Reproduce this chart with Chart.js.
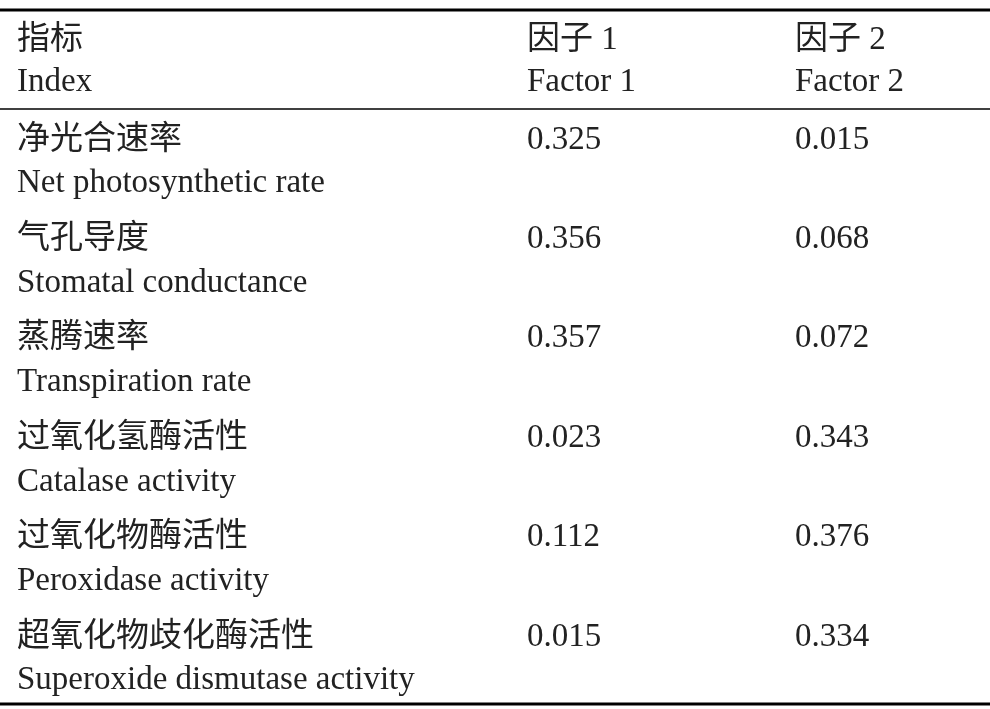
<!DOCTYPE html>
<html><head><meta charset="utf-8">
<script src="https://cdn.jsdelivr.net/npm/chart.js@4.4.1/dist/chart.umd.min.js"></script>
<style>html,body{margin:0;padding:0;background:#fff}#wrap{width:990px;height:709px}</style>
</head><body><div id="wrap"><canvas id="c"></canvas></div>
<script>
const headerZh = ['指标', '因子 1', '因子 2']
const headerEn = ['Index', 'Factor 1', 'Factor 2']
const indexZh = ['净光合速率', '气孔导度', '蒸腾速率', '过氧化氢酶活性', '过氧化物酶活性', '超氧化物歧化酶活性']
const indexEn = ['Net photosynthetic rate', 'Stomatal conductance', 'Transpiration rate', 'Catalase activity', 'Peroxidase activity', 'Superoxide dismutase activity']
const factor1 = [0.325, 0.356, 0.357, 0.023, 0.112, 0.015]
const factor2 = [0.015, 0.068, 0.072, 0.343, 0.376, 0.334]

const colX = [17, 527, 795]
const FONT = '33px "Liberation Serif", "Noto Sans CJK SC", serif'

const tablePlugin = {
  id: 'table',
  afterDraw(chart) {
    const { ctx, scales: { x, y } } = chart
    ctx.save()
    ctx.fillStyle = '#222'
    ctx.font = FONT
    ctx.textBaseline = 'middle'
    const put = (t, col, row) => ctx.fillText(t, colX[col], y.getPixelForValue(row) + 2)
    headerZh.forEach((t, i) => put(t, i, -1))
    headerEn.forEach((t, i) => put(t, i, -0.58))
    indexZh.forEach((t, i) => {
      put(t, 0, i)
      put(indexEn[i], 0, i + 0.44)
      put(factor1[i].toFixed(3), 1, i)
      put(factor2[i].toFixed(3), 2, i)
    })
    ctx.strokeStyle = '#000'
    const rule = (row, w) => {
      const py = Math.round(y.getPixelForValue(row))
      ctx.lineWidth = w
      ctx.beginPath(); ctx.moveTo(x.left, py); ctx.lineTo(x.right, py); ctx.stroke()
    }
    rule(-1.29, 3)
    rule(-0.29, 1.5)
    rule(5.69, 3)
    ctx.restore()
  }
}

new Chart(document.getElementById('c'), {
  type: 'scatter',
  data: { datasets: [{ data: factor1.map((v, i) => ({ x: 1, y: i })), pointRadius: 0 }] },
  options: {
    responsive: true, maintainAspectRatio: false, animation: false,
    layout: { padding: 0 },
    plugins: { legend: { display: false }, tooltip: { enabled: false } },
    scales: {
      x: { display: false, min: 0, max: 2 },
      y: { display: false, reverse: true, min: -1.388, max: 5.744 }
    }
  },
  plugins: [tablePlugin]
})
</script></body></html>
